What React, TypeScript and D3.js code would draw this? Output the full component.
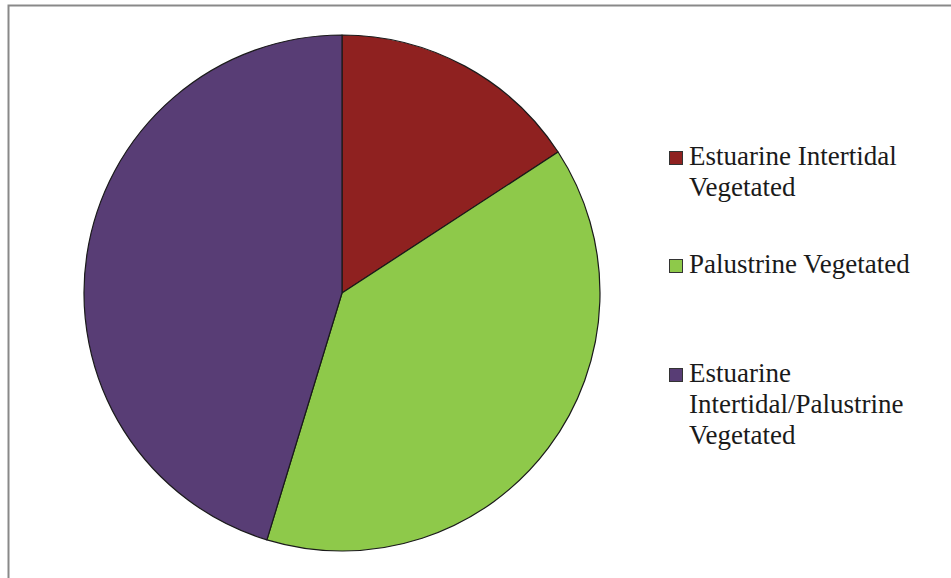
import React, { useEffect, useRef } from 'react';
import * as d3 from 'd3';

const categories = [
  ['Estuarine Intertidal', 'Vegetated'],
  ['Palustrine Vegetated'],
  ['Estuarine', 'Intertidal/Palustrine', 'Vegetated'],
];
const values = [15.8, 38.9, 45.3];
const colors = ['#8f2120', '#8ec94a', '#583d75'];

export default function App() {
  const svgRef = useRef<SVGSVGElement>(null);

  useEffect(() => {
    if (!svgRef.current) return;
    const width = 951;
    const height = 578;
    const svg = d3.select(svgRef.current);
    svg.selectAll('*').remove();
    svg.attr('width', width).attr('height', height);

    svg.append('rect')
      .attr('width', width).attr('height', height).attr('fill', '#fff');

    // outer chart frame
    svg.append('rect')
      .attr('x', 8.5).attr('y', 5.5)
      .attr('width', 960).attr('height', 600)
      .attr('fill', 'none')
      .attr('stroke', '#898989')
      .attr('stroke-width', 2);

    const radius = 258;
    const g = svg.append('g').attr('transform', 'translate(342,293)');

    const pie = d3.pie<number>().sort(null).value(d => d);
    const arc = d3.arc<d3.PieArcDatum<number>>().innerRadius(0).outerRadius(radius);

    g.selectAll('path')
      .data(pie(values))
      .join('path')
      .attr('d', arc)
      .attr('fill', (_, i) => colors[i])
      .attr('stroke', '#1a1a1a')
      .attr('stroke-width', 1.2)
      .attr('stroke-linejoin', 'round');

    // legend
    const legendTops = [165, 273, 382];
    const lineH = 31;
    const leg = svg.append('g');
    categories.forEach((lines, i) => {
      const base = legendTops[i];
      leg.append('rect')
        .attr('x', 669.5).attr('y', base - 13.5)
        .attr('width', 13).attr('height', 13)
        .attr('fill', colors[i])
        .attr('stroke', '#333').attr('stroke-width', 1);
      const t = leg.append('text')
        .attr('font-family', '"Liberation Serif", "Times New Roman", serif')
        .attr('font-size', 27)
        .attr('fill', '#1a1a1a');
      lines.forEach((line, j) => {
        t.append('tspan')
          .attr('x', 689)
          .attr('y', base + j * lineH)
          .text(line);
      });
    });
  }, []);

  return <svg ref={svgRef} style={{ display: 'block', position: 'absolute', left: 0, top: 0 }} />;
}
